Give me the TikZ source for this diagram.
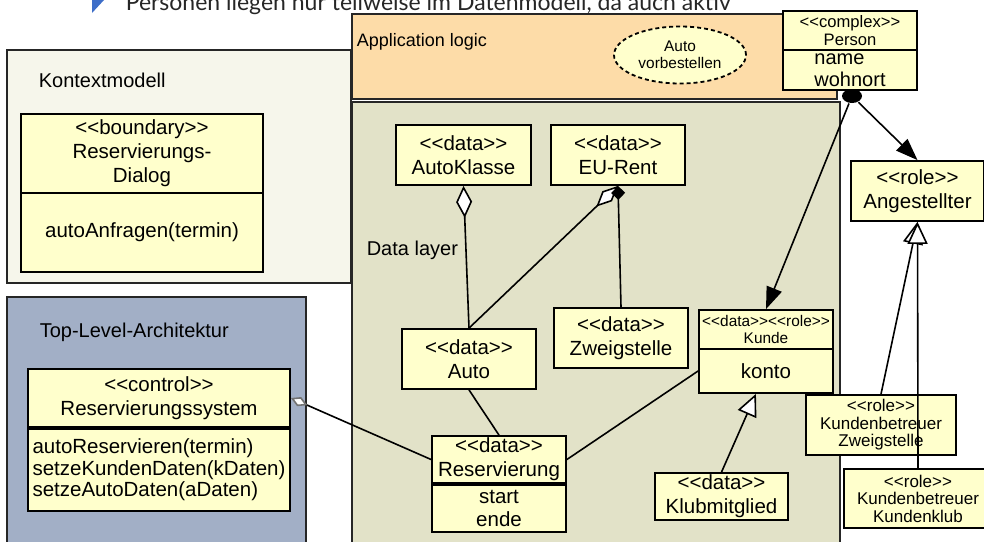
\documentclass[tikz,border=0pt]{standalone}
\usepackage{fontspec}
\setmainfont{Liberation Sans}
\newfontfamily\latofont{Lato}
\usetikzlibrary{arrows.meta,shapes.geometric}
\definecolor{clsfill}{RGB}{255,255,204}
\definecolor{kontextfill}{RGB}{246,246,235}
\definecolor{toplevelfill}{RGB}{162,175,198}
\definecolor{appfill}{RGB}{253,220,168}
\definecolor{datafill}{RGB}{226,226,200}
\definecolor{bulletblue}{RGB}{62,110,200}
\newcommand\stereo[1]{<{}<#1>{}>}
\tikzset{
  dims/.style 2 args={minimum width=#1*0.5pt, minimum height=#2*0.5pt},
  cls/.style={draw, line width=0.9pt, fill=clsfill, inner sep=0pt, align=center,
    font=\fontsize{10.25}{12}\selectfont},
  smallcls/.style={cls, font=\fontsize{8.3}{9}\selectfont},
  rolecls/.style={cls, font=\fontsize{8.5}{8.75}\selectfont},
  panel/.style={draw=black!85, line width=1pt},
  paneltitle/.style={anchor=base west, inner sep=0pt, font=\fontsize{10}{12}\selectfont},
}
\begin{document}
\begin{tikzpicture}[x=0.5pt, y=-0.5pt, line width=0.8pt]
  \useasboundingbox (0,0) rectangle (984,541);
  \fill[bulletblue] (92,-13) -- (104,0) -- (92,13) -- cycle;
  \node[anchor=base west, inner sep=0pt, font=\latofont\fontsize{11.5}{13}\selectfont, text=black!85]
    (note) at (125,10.5) {Personen liegen nur teilweise im Datenmodell, da auch aktiv};
  \filldraw[panel, fill=kontextfill] (7,50) rectangle (351,283);
  \filldraw[panel, fill=toplevelfill] (7,297) rectangle (306,550);
  \filldraw[panel, fill=appfill] (352,14) rectangle (837,99);
  \filldraw[panel, fill=datafill] (352,102) rectangle (840,550);
  \node[paneltitle] (kontext) at (38,87) {Kontextmodell};
  \node[paneltitle] (toplevel) at (39,337) {Top-Level-Architektur};
  \node[paneltitle, font=\fontsize{9}{11}\selectfont] (applogic) at (356,46) {Application logic};
  \node[paneltitle] (datalayer) at (366,255) {Data layer};

  \node[cls, dims={242}{79}] (dlg) at (142,153.5) {\stereo{boundary}\\Reservierungs-\\Dialog};
  \node[cls, dims={242}{79}] (dlgOps) at (142,232.5) {autoAnfragen(termin)};
  \node[cls, dims={262}{58}] (ctl) at (159,398) {\stereo{control}\\Reservierungssystem};
  \node[cls, dims={262}{82}, align=left, font=\fontsize{10.25}{10.75}\selectfont] (ctlOps) at (159,470)
    {autoReservieren(termin)\\setzeKundenDaten(kDaten)\\setzeAutoDaten(aDaten)};
  \node[cls, dims={135}{60}] (aklasse) at (463.5,155) {\stereo{data}\\AutoKlasse};
  \node[cls, dims={134}{60}] (eurent) at (618,155) {\stereo{data}\\EU-Rent};
  \node[cls, dims={134}{60}] (auto) at (469,359) {\stereo{data}\\Auto};
  \node[cls, dims={134}{60}] (zweig) at (621,338) {\stereo{data}\\Zweigstelle};
  \node[cls, dims={134}{47}] (res) at (499,459.5) {\stereo{data}\\Reservierung};
  \node[cls, dims={134}{47}, font=\fontsize{10.25}{11.5}\selectfont] (resAttr) at (499,508.5) {start\\ende};
  \node[cls, dims={134}{39}, font=\fontsize{7.7}{8.2}\selectfont] (kunde) at (766,329.5) {\stereo{data}\stereo{role}\\Kunde};
  \node[cls, dims={134}{44}] (kundeAttr) at (766,371) {konto};
  \node[cls, dims={133}{47}] (klub) at (721.5,496.5) {\stereo{data}\\Klubmitglied};
  \node[cls, ellipse, dashed, dash pattern=on 2pt off 1.5pt, dims={132}{57}, font=\fontsize{7.7}{8.3}\selectfont]
    (vorbestellen) at (680,55) {Auto\\vorbestellen};
  \node[smallcls, dims={134}{39}] (person) at (850,30.5) {\stereo{complex}\\Person};
  \node[cls, dims={134}{40}, align=left, font=\fontsize{10}{11}\selectfont] (personAttr) at (850,70) {name\\wohnort};
  \node[cls, dims={133}{60}] (ang) at (917.5,191) {\stereo{role}\\Angestellter};
  \node[rolecls, dims={150}{60}] (kbz) at (881,425) {\stereo{role}\\Kundenbetreuer\\Zweigstelle};
  \node[rolecls, dims={148}{59}] (kbk) at (918,498.5) {\stereo{role}\\Kundenbetreuer\\Kundenklub};
  \node[ellipse, fill=black, inner sep=0pt, dims={20}{14}] (pdot) at (852,96) {};

  \begin{scope}[-]
    \draw[{Diamond[fill=white, color=black!55, length=9pt, width=5pt]}-] (ctl.east) -- (res.west);
    \draw[{Diamond[fill=white, length=16pt, width=8pt]}-] (aklasse.south) -- (auto.north);
    \draw[{Diamond[fill=white, length=15pt, width=7pt]}-] (eurent.south) -- (auto.north);
    \draw[{Diamond[length=7pt, width=7pt]}-] (eurent.south) -- (zweig.north);
    \draw (auto.south) -- (res.north);
    \draw (res.east) -- (kundeAttr.west);
    \draw[-{Triangle[fill=white, length=11pt, width=10pt]}] (klub.north) -- (kundeAttr);
    \draw[-{Triangle[length=11pt, width=8pt]}] (pdot) -- (kunde.north);
    \draw[-{Triangle[length=11pt, width=8pt]}] (pdot) -- (ang.north);
    \draw[-{Triangle[fill=white, length=11pt, width=10pt]}] (kbz.north) -- (ang.south);
    \draw[-{Triangle[fill=white, length=11pt, width=10pt]}] (kbk.north) -- (ang.south);
  \end{scope}
\end{tikzpicture}
\end{document}
